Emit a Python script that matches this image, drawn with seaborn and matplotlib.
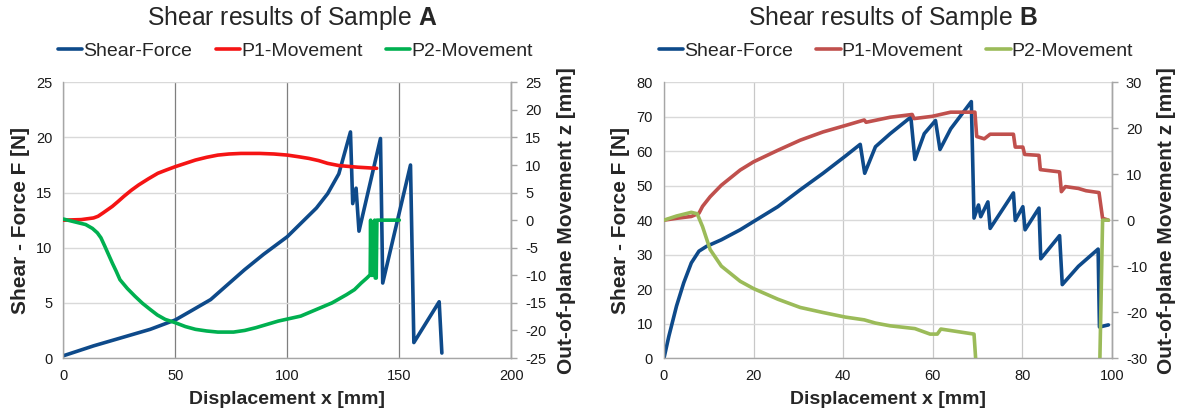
import pandas as pd
import seaborn as sns
import matplotlib.pyplot as plt

# --- Sample A ---
a_force_x = [0, 13.5, 27, 38.8, 50, 57.3, 65.8, 72.5, 80.9, 89.4, 100, 106, 113, 118, 123,
             128.2, 129.2, 130.7, 132, 141.6, 142.6, 155, 156.5, 167.8, 169]
a_force_y = [0.2, 1.1, 1.9, 2.6, 3.45, 4.3, 5.3, 6.5, 8.0, 9.4, 11.0, 12.2, 13.6, 14.9, 16.7,
             20.5, 14.0, 15.4, 11.5, 19.9, 6.8, 17.5, 1.4, 5.1, 0.45]

a_p1_x = [0, 8, 13.5, 15.5, 17.7, 19.8, 21.9, 24.5, 27, 30.3, 33.7, 38, 42.2, 46, 50, 54.5, 59,
          64, 69, 74, 79.3, 87.7, 94, 100, 105, 109.6, 114, 118, 123, 131.5, 139.9]
a_p1_z = [0, 0.1, 0.4, 0.7, 1.3, 1.9, 2.5, 3.4, 4.3, 5.4, 6.4, 7.5, 8.5, 9.1, 9.7, 10.3, 10.9,
          11.4, 11.8, 12.0, 12.1, 12.1, 12.0, 11.8, 11.5, 11.2, 10.8, 10.3, 9.9, 9.6, 9.4]

a_p2_x = [0, 5, 10, 13, 15.2, 16.8, 18.5, 20.2, 21.9, 23.6, 25.3, 28.6, 32, 35.4, 38.8, 42, 45.5,
          50, 54.5, 59, 64, 69, 76, 81, 86, 91, 96, 106, 113, 120, 126.5, 130, 133, 135.5, 137,
          137.2, 137.4, 138.8, 139, 139.3, 139.7, 140, 150]
a_p2_z = [0.2, -0.3, -0.8, -1.5, -2.3, -3.2, -4.7, -6.25, -7.8, -9.25, -10.8, -12.4, -13.8, -15.1,
          -16.2, -17.2, -18, -18.6, -19.3, -19.8, -20.1, -20.3, -20.3, -20.0, -19.5, -18.9, -18.3,
          -17.4, -16.2, -15, -13.5, -12.6, -11.4, -10.5, -9.9, 0, -10, -10, 0, -10.5, -10.5, 0, 0]

# --- Sample B ---
b_force_x = [0, 1.1, 2.8, 4.4, 6.1, 7.8, 9.5, 12.8, 17, 20, 25.4, 30.4, 35.5, 40.5, 43.8, 44.8,
             47.2, 50.5, 55.1, 56, 58.1, 60.6, 61.6, 64, 68.6, 69.2, 70.2, 70.7, 72.3, 72.8,
             78, 78.4, 80.1, 80.6, 83.7, 84.1, 88.3, 88.9, 92.5, 96.9, 97.2, 99.2]
b_force_y = [0, 6.4, 15.1, 21.8, 27.6, 31.0, 32.4, 34.3, 37.2, 39.6, 43.9, 48.8, 53.6, 58.6, 62, 53.6,
             61.3, 65.1, 69.9, 57.6, 65.1, 68.9, 60.5, 66.5, 74.4, 40.6, 44.4, 41, 45.3, 37.6,
             47.9, 39.9, 43.9, 37.2, 43.5, 28.8, 35.5, 21.3, 26.6, 31.6, 9.0, 9.6]

b_p1_x = [0, 2.8, 6.1, 7.8, 8.6, 10.3, 12.8, 17, 20, 25.4, 30.4, 35.5, 40.5, 44.7, 45.1, 50.5,
          55.4, 55.8, 59.9, 64, 69.4, 69.8, 71.5, 72.8, 78, 78.4, 80.1, 80.5, 83.7, 84, 88.3,
          88.7, 89.6, 92.5, 94.2, 97.1, 97.9, 99.2]
b_p1_z = [0, 0.4, 0.8, 1.5, 3.0, 5.1, 7.6, 10.9, 12.7, 15.2, 17.4, 19.2, 20.6, 21.8, 21.3, 22.4,
          23.0, 22.1, 22.6, 23.5, 23.5, 18.2, 17.7, 18.7, 18.7, 15.9, 15.9, 14.3, 14.1, 11.0, 10.5,
          6.2, 7.3, 6.9, 6.4, 6.0, 0.4, 0]

b_p2_x = [0, 2.8, 6.1, 7.4, 8.6, 10.3, 12.8, 17, 20, 25.4, 30.4, 35.5, 40.5, 44.7, 47.2, 50.5,
          56, 59.4, 61, 61.8, 69.2, 69.9, 97.2, 97.9, 99.2]
b_p2_z = [0, 0.9, 1.7, 1.4, -1.4, -6.4, -10, -13.3, -14.9, -17.2, -19, -20.1, -21.1, -21.7, -22.4, -23,
          -23.6, -24.8, -24.8, -23.7, -24.8, -35, -35, 0, 0]

BLUE = "#0e4a8a"

panels = [
    dict(name="A", fx=a_force_x, fy=a_force_y, p1x=a_p1_x, p1z=a_p1_z, p2x=a_p2_x, p2z=a_p2_z,
         c1="#f51414", c2="#00b050", xmax=200, xstep=50, fmax=25, fstep=5, zlim=25, zstep=5,
         left=63.3, vgrid="#7f7f7f"),
    dict(name="B", fx=b_force_x, fy=b_force_y, p1x=b_p1_x, p1z=b_p1_z, p2x=b_p2_x, p2z=b_p2_z,
         c1="#c0504d", c2="#9bbb59", xmax=100, xstep=20, fmax=80, fstep=10, zlim=30, zstep=10,
         left=664, vgrid="#c8c8c8"),
]

sns.set_style("white")
plt.rcParams['font.family'] = ['Liberation Sans', 'DejaVu Sans']
plt.rcParams['mathtext.fontset'] = 'custom'
plt.rcParams['mathtext.bf'] = 'Liberation Sans:bold'
plt.rcParams['mathtext.rm'] = 'Liberation Sans'
plt.rcParams['axes.unicode_minus'] = False

W, H = 1177, 416
fig = plt.figure(figsize=(W / 100, H / 100), dpi=100)

for p in panels:
    aw, ah = 448, 275.7
    ax = fig.add_axes([p["left"] / W, (H - 358) / H, aw / W, ah / H])
    ax2 = ax.twinx()

    df_f = pd.DataFrame({"x": p["fx"], "y": p["fy"]})
    df_1 = pd.DataFrame({"x": p["p1x"], "z": p["p1z"]})
    df_2 = pd.DataFrame({"x": p["p2x"], "z": p["p2z"]})

    sns.lineplot(data=df_f, x="x", y="y", sort=False, estimator=None, color=BLUE, lw=2.6,
                 ax=ax, label="Shear-Force", legend=False)
    sns.lineplot(data=df_1, x="x", y="z", sort=False, estimator=None, color=p["c1"], lw=2.6,
                 ax=ax2, label="P1-Movement", legend=False)
    sns.lineplot(data=df_2, x="x", y="z", sort=False, estimator=None, color=p["c2"], lw=2.6,
                 ax=ax2, label="P2-Movement", legend=False)

    ax.set_xlim(0, p["xmax"])
    ax.set_ylim(0, p["fmax"])
    ax2.set_ylim(-p["zlim"], p["zlim"])
    ax.set_xticks(range(0, p["xmax"] + 1, p["xstep"]))
    ax.set_yticks(range(0, p["fmax"] + 1, p["fstep"]))
    ax2.set_yticks(range(-p["zlim"], p["zlim"] + 1, p["zstep"]))
    ax.set_xlabel("")
    ax.set_ylabel("")
    ax2.set_ylabel("")

    ax.yaxis.grid(True, color="#d9d9d9", lw=1)
    ax.xaxis.grid(True, color=p["vgrid"], lw=0.9)
    ax.set_axisbelow(True)

    for a in (ax, ax2):
        for s in a.spines.values():
            s.set_color("#a6a6a6")
            s.set_linewidth(1)
        a.spines["top"].set_visible(False)
    ax2.spines["left"].set_visible(False)
    ax2.spines["bottom"].set_visible(False)

    ax.tick_params(axis="both", length=0, labelsize=10.5, colors="#1a1a1a")
    ax.tick_params(axis="y", pad=8)
    ax.tick_params(axis="x", pad=8)
    ax2.tick_params(axis="y", length=4, width=1, color="#a6a6a6", direction="out",
                    labelsize=10.5, labelcolor="#1a1a1a", pad=6)

    cx = (p["left"] + aw / 2) / W
    fig.text(cx + 5 / W, 1 - 18 / H, "Shear results of Sample $\\bf{%s}$" % p["name"],
             ha="center", va="center", fontsize=17.8)
    fig.text(cx, 1 - 400 / H, "Displacement x [mm]", ha="center", va="center",
             fontsize=14, fontweight="bold")
    fig.text((p["left"] - 43) / W, (H - 358 + ah / 2) / H, "Shear - Force F [N]", rotation=90,
             ha="center", va="center", fontsize=15, fontweight="bold")
    fig.text((p["left"] + aw + 55) / W, (H - 358 + ah / 2) / H, "Out-of-plane Movement z [mm]",
             rotation=90, ha="center", va="center", fontsize=15, fontweight="bold")

    h1, l1 = ax.get_legend_handles_labels()
    h2, l2 = ax2.get_legend_handles_labels()
    fig.legend(h1 + h2, l1 + l2, loc="center", bbox_to_anchor=(cx + 8 / W, 1 - 51 / H), ncol=3,
               frameon=False, fontsize=14, handlelength=1.25, handletextpad=0.05,
               columnspacing=1.2, borderaxespad=0)

fig.savefig("out.png", dpi=100, facecolor="white")
